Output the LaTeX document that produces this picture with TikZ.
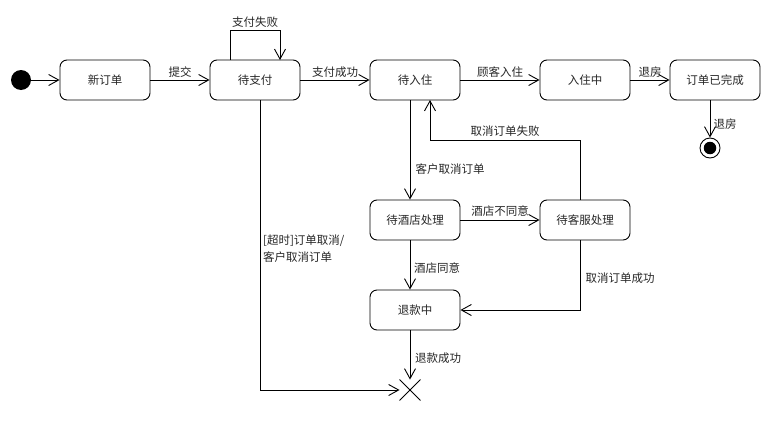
\documentclass[tikz,border=0pt]{standalone}
\usepackage{fontspec}
\setmainfont{Noto Sans CJK SC}
\usetikzlibrary{arrows.meta,shapes.misc}
\begin{document}
\begin{tikzpicture}[x=1pt,y=-1pt,
  every node/.style={font=\fontsize{11.5}{14}\selectfont, text=black!85},
  stbox/.style={draw, line width=0.9pt, rounded corners=7pt, minimum width=90pt, minimum height=40pt, inner sep=0pt},
  tr/.style={draw, line width=0.9pt, -{Straight Barb[length=10pt,width=11pt,line width=0.9pt]}},
  lbl/.style={inner sep=1pt}]
\useasboundingbox (0,0) rectangle (770,420);
\node[circle, fill=black, minimum size=20pt, inner sep=0pt] (init) at (21,80) {};
\node[stbox] (s1) at (105,80) {新订单};
\node[stbox] (s2) at (255,80) {待支付};
\node[stbox] (s3) at (415,80) {待入住};
\node[stbox] (s4) at (585,80) {入住中};
\node[stbox] (s5) at (715,80) {订单已完成};
\node[stbox] (s6) at (415,220) {待酒店处理};
\node[stbox] (s7) at (585,220) {待客服处理};
\node[stbox] (s8) at (415,310) {退款中};
\node[circle, draw, line width=0.9pt, fill=white, minimum size=20pt, inner sep=0pt] (fin) at (710,148) {};
\node[circle, fill=black, minimum size=12.5pt, inner sep=0pt] (fininner) at (710,148) {};
\node[cross out, draw, line width=0.9pt, minimum size=20pt, inner sep=0pt] (X) at (410,390) {};
\coordinate (a1) at (230,60);
\coordinate (a2) at (280,60);
\coordinate (b1) at (260,100);
\coordinate (c1) at (410,100);
\coordinate (d1) at (430,100);
\coordinate (e1) at (580,200);
\coordinate (e2) at (580,240);
\coordinate (f1) at (710,100);

\draw[tr] (init) -- (s1);
\draw[tr] (s1) -- (s2);
\draw[tr] (a1) -- ++(0,-30) -| (a2);
\draw[tr] (s2) -- (s3);
\draw[tr] (s3) -- (s4);
\draw[tr] (s4) -- (s5);
\draw[tr] (f1) -- (fin);
\draw[tr] (c1) -- (c1 |- s6.north);
\draw[tr] (e1) |- (430,140) -- (d1);
\draw[tr] (s6) -- (s7);
\draw[tr] (s6.south -| c1) -- (s8.north -| c1);
\draw[tr] (e2) |- (s8.east);
\draw[tr] (s8.south -| c1) -- (X.north);
\draw[tr] (b1) |- (X.west);

\node[lbl] (l1) at (180,72) {提交};
\node[lbl] (l2) at (255,22) {支付失败};
\node[lbl] (l3) at (335,72) {支付成功};
\node[lbl] (l4) at (500,72) {顾客入住};
\node[lbl] (l5) at (650,72) {退房};
\node[lbl] (l6) at (725,124) {退房};
\node[lbl] (l7) at (505,131) {取消订单失败};
\node[lbl] (l8) at (450,169) {客户取消订单};
\node[lbl] (l9) at (500,211) {酒店不同意};
\node[lbl, align=left, anchor=west, font=\fontsize{11.5}{17}\selectfont] (l10) at (262,248.5) {[超时]订单取消/\\客户取消订单};
\node[lbl] (l11) at (437,268) {酒店同意};
\node[lbl] (l12) at (620,278) {取消订单成功};
\node[lbl] (l13) at (438,358) {退款成功};
\end{tikzpicture}
\end{document}
